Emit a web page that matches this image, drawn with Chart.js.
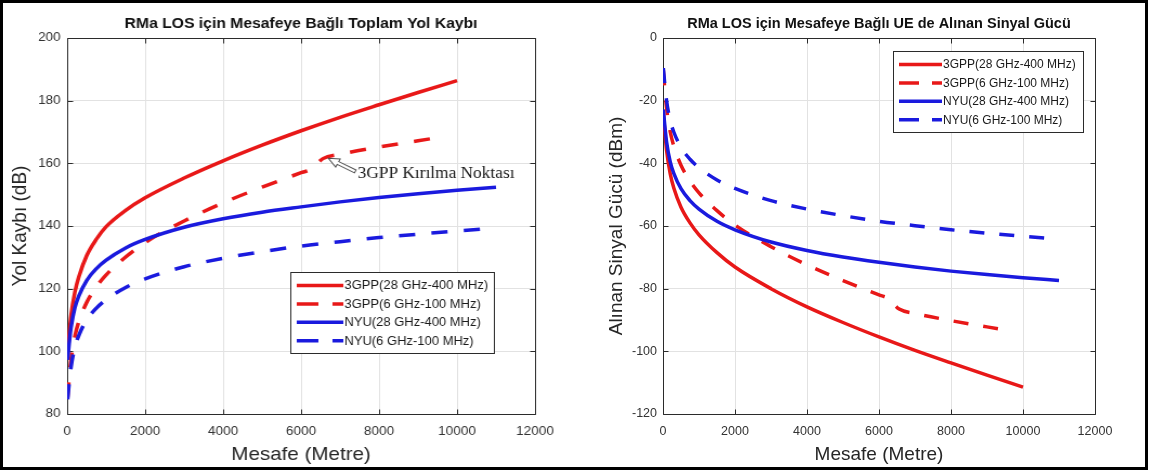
<!DOCTYPE html>
<html>
<head>
<meta charset="utf-8">
<script src="https://cdn.jsdelivr.net/npm/chart.js@4.4.0/dist/chart.umd.min.js"></script>
<style>
  html, body { margin: 0; padding: 0; background: #fff; }
  #page { position: relative; width: 1150px; height: 472px; overflow: hidden; }
  .panel { position: absolute; top: 0; width: 531px; height: 472px; }
  #leftPanel { left: 0; transform: scaleX(1.083); transform-origin: 0 0; }
  #rightPanel { left: 601px; }
  #outline { position: absolute; left: 0; top: 0; width: 1148px; height: 470px; border: 3px solid #000; box-sizing: border-box; pointer-events: none; }
</style>
</head>
<body>
<div id="page">
  <div class="panel" id="leftPanel"><canvas id="lossChart" width="531" height="472"></canvas></div>
  <div class="panel" id="rightPanel"><canvas id="powerChart" width="531" height="472"></canvas></div>
  <div id="outline"></div>
</div>
<script>
// distances (m)
const dist3gpp28 = [10, 50, 100, 200, 300, 500, 750, 1000, 1500, 2000, 3000, 4000, 5000, 6000, 7000, 8000, 9000, 10000];
const dist3gpp6 = [10, 50, 100, 200, 300, 500, 750, 1000, 1500, 2000, 3000, 4000, 5000, 6000, 6250, 6560, 7000, 8000, 9000, 9650];
const distNyu = [10, 50, 100, 200, 300, 500, 750, 1000, 1500, 2000, 3000, 4000, 5000, 6000, 7000, 8000, 9000, 10000, 11000];

// total path loss (dB)
const loss3gpp28 = [98.7, 105, 111.5, 119, 123.8, 130.5, 135.8, 139.8, 145, 149, 155.3, 160.8, 165.8, 170.4, 174.7, 178.7, 182.6, 186.4];
const loss3gpp6 = [85.3, 91.3, 97.5, 104.9, 109.5, 115.6, 120.6, 124.4, 130.1, 134.7, 141.6, 147.4, 152.4, 157, 158.1, 161.5, 162.9, 165.2, 167.2, 168.5];
const lossNyu28 = [97.3, 102.4, 107.7, 114, 117.7, 122.6, 126.4, 129.1, 133, 135.7, 139.6, 142.3, 144.4, 146.1, 147.7, 149.1, 150.3, 151.4, 152.4];
const lossNyu6 = [84.7, 89.8, 95.1, 101.4, 105.1, 110, 113.8, 116.5, 120.4, 123.1, 127, 129.7, 131.8, 133.6, 135, 136.3, 137.4, 138.4, 139.3];

// received power at the UE (dBm)
const rx3gpp28 = [-23.7, -29.7, -35.9, -43.3, -47.9, -54, -59, -62.8, -68.5, -73.1, -80, -85.8, -90.8, -95.4, -99.7, -103.7, -107.6, -111.4];
const rx3gpp6 = [-10.3, -16.3, -22.5, -29.9, -34.5, -40.6, -45.6, -49.4, -55.1, -59.7, -66.6, -72.4, -77.4, -82, -83.1, -86.5, -87.9, -90.2, -92.2, -93.5];
const rxNyu28 = [-22.8, -27.9, -33.2, -39.5, -43.2, -48.1, -51.9, -54.6, -58.5, -61.2, -65.1, -67.8, -69.9, -71.6, -73.1, -74.4, -75.5, -76.5, -77.4];
const rxNyu6 = [-9.6, -14.7, -20, -26.3, -30, -34.9, -38.7, -41.4, -45.3, -48, -51.9, -54.6, -56.7, -58.5, -59.9, -61.2, -62.3, -63.3, -64.2];

const seriesLabels = ['3GPP(28 GHz-400 MHz)', '3GPP(6 GHz-100 MHz)', 'NYU(28 GHz-400 MHz)', 'NYU(6 GHz-100 MHz)'];
const xTicks = [0, 2000, 4000, 6000, 8000, 10000, 12000];

const RED = '#e81818';
const BLUE = '#1a1ade';
const AXIS = '#2b2b2b';
const GRID = '#e2e2e2';
const SANS = "'Liberation Sans', Arial, sans-serif";
const TICK_LEN = 5;

function drawLegend(ctx, datasets, box) {
  ctx.fillStyle = '#fff';
  ctx.fillRect(box.x, box.y, box.w, box.h);
  ctx.strokeStyle = AXIS;
  ctx.lineWidth = 1;
  ctx.setLineDash([]);
  ctx.strokeRect(box.x + 0.5, box.y + 0.5, box.w, box.h);
  ctx.font = '12px ' + SANS;
  ctx.textBaseline = 'middle';
  ctx.textAlign = 'left';
  datasets.forEach((ds, i) => {
    const y = box.y + 13.5 + i * 18.4;
    ctx.strokeStyle = ds.borderColor;
    ctx.lineWidth = 3.5;
    ctx.lineCap = 'butt';
    ctx.setLineDash(ds.borderDash.length ? [20, 13] : []);
    ctx.beginPath();
    ctx.moveTo(box.x + 6, y);
    ctx.lineTo(box.x + 49, y);
    ctx.stroke();
    ctx.setLineDash([]);
    ctx.fillStyle = '#1a1a1a';
    ctx.fillText(ds.label, box.x + 50, y + 0.5);
  });
}

function drawNote(ctx, chart, note) {
  const { x, y } = chart.scales;
  const tipX = x.getPixelForValue(note.tip[0]), tipY = y.getPixelForValue(note.tip[1]);
  const tailX = x.getPixelForValue(note.tail[0]), tailY = y.getPixelForValue(note.tail[1]);
  const ang = Math.atan2(tipY - tailY, tipX - tailX);
  const len = Math.hypot(tipX - tailX, tipY - tailY);
  ctx.save();
  ctx.translate(tailX, tailY);
  ctx.rotate(ang);
  // hollow block arrow
  ctx.beginPath();
  ctx.moveTo(0, -1.6);
  ctx.lineTo(len - 10, -1.6);
  ctx.lineTo(len - 10, -4.5);
  ctx.lineTo(len, 0);
  ctx.lineTo(len - 10, 4.5);
  ctx.lineTo(len - 10, 1.6);
  ctx.lineTo(0, 1.6);
  ctx.closePath();
  ctx.fillStyle = '#fff';
  ctx.fill();
  ctx.strokeStyle = '#505050';
  ctx.lineWidth = 1;
  ctx.stroke();
  ctx.restore();

  ctx.font = "16px 'Liberation Serif', 'Times New Roman', serif";
  ctx.fillStyle = '#1a1a1a';
  ctx.textAlign = 'left';
  ctx.textBaseline = 'middle';
  ctx.fillText(note.text, x.getPixelForValue(note.at[0]), y.getPixelForValue(note.at[1]));
}

const frame = {
  id: 'frame',
  beforeDatasetsDraw(chart) {
    const { ctx, chartArea: a, scales: { x, y } } = chart;
    const l = Math.round(a.left) + 0.5, r = Math.round(a.right) + 0.5;
    const t = Math.round(a.top) + 0.5, b = Math.round(a.bottom) + 0.5;
    ctx.save();
    ctx.strokeStyle = AXIS;
    ctx.lineWidth = 1;
    ctx.beginPath();
    ctx.rect(l, t, r - l, b - t);
    x.ticks.forEach(tk => {
      const px = Math.round(x.getPixelForValue(tk.value)) + 0.5;
      ctx.moveTo(px, b); ctx.lineTo(px, b - TICK_LEN);
      ctx.moveTo(px, t); ctx.lineTo(px, t + TICK_LEN);
    });
    y.ticks.forEach(tk => {
      const py = Math.round(y.getPixelForValue(tk.value)) + 0.5;
      ctx.moveTo(l, py); ctx.lineTo(l + TICK_LEN, py);
      ctx.moveTo(r, py); ctx.lineTo(r - TICK_LEN, py);
    });
    ctx.stroke();
    ctx.restore();
  },
  afterDraw(chart, args, opts) {
    const { ctx, chartArea: a } = chart;
    const cx = (a.left + a.right) / 2, cy = (a.top + a.bottom) / 2;
    ctx.save();
    ctx.fillStyle = '#111';
    ctx.textAlign = 'center';
    ctx.textBaseline = 'middle';
    ctx.font = 'bold 14.5px ' + SANS;
    ctx.fillText(opts.title, cx, 24);
    ctx.fillStyle = '#262626';
    ctx.font = '19px ' + SANS;
    ctx.fillText(opts.xTitle, cx, 455);
    ctx.save();
    ctx.translate(opts.yTitleX, cy);
    ctx.rotate(-Math.PI / 2);
    ctx.fillText(opts.yTitle, 0, 0);
    ctx.restore();
    if (opts.note) drawNote(ctx, chart, opts.note);
    drawLegend(ctx, chart.data.datasets, opts.legend);
    ctx.restore();
  }
};

function makeSeries(dists, values, color, dashed, i) {
  return {
    label: seriesLabels[i],
    data: dists.map((d, k) => ({ x: d, y: values[k] })),
    borderColor: color,
    borderWidth: 3.5,
    borderDash: dashed ? [15, 15] : [],
    borderCapStyle: 'butt',
    pointRadius: 0,
    cubicInterpolationMode: 'monotone',
    fill: false,
    order: 4 - i // later series on top
  };
}

function buildChart(canvas, datasets, yMin, yMax, deco) {
  const tickFont = { family: SANS, size: 12.5 };
  return new Chart(canvas, {
    type: 'line',
    data: { datasets },
    options: {
      responsive: false,
      animation: false,
      events: [],
      layout: { padding: { left: 0, right: 37, top: 38, bottom: 0 } },
      plugins: {
        legend: { display: false },
        title: { display: false },
        tooltip: { enabled: false },
        frame: deco
      },
      scales: {
        x: {
          type: 'linear',
          min: 0,
          max: 12000,
          afterFit: s => { s.height = 58; },
          afterBuildTicks: s => { s.ticks = xTicks.map(v => ({ value: v })); },
          ticks: { padding: 10, color: '#333', font: tickFont, maxRotation: 0, autoSkip: false, callback: v => String(v) },
          grid: { color: GRID, drawTicks: false },
          border: { display: false }
        },
        y: {
          min: yMin,
          max: yMax,
          afterFit: s => { s.width = 62; },
          ticks: { stepSize: 20, padding: 6, color: '#333', font: tickFont, callback: v => String(v) },
          grid: { color: GRID, drawTicks: false },
          border: { display: false }
        }
      }
    },
    plugins: [frame]
  });
}

buildChart(document.getElementById('lossChart'), [
  makeSeries(dist3gpp28, loss3gpp28, RED, false, 0),
  makeSeries(dist3gpp6, loss3gpp6, RED, true, 1),
  makeSeries(distNyu, lossNyu28, BLUE, false, 2),
  makeSeries(distNyu, lossNyu6, BLUE, true, 3)
], 80, 200, {
  title: 'RMa LOS için Mesafeye Bağlı Toplam Yol Kaybı',
  xTitle: 'Mesafe (Metre)',
  yTitle: 'Yol Kaybı (dB)',
  yTitleX: 19,
  legend: { x: 268, y: 272, w: 188, h: 81 },
  note: { text: '3GPP Kırılma Noktası', tip: [6700, 161.6], tail: [7390, 157.4], at: [7450, 156.8] }
});

buildChart(document.getElementById('powerChart'), [
  makeSeries(dist3gpp28, rx3gpp28, RED, false, 0),
  makeSeries(dist3gpp6, rx3gpp6, RED, true, 1),
  makeSeries(distNyu, rxNyu28, BLUE, false, 2),
  makeSeries(distNyu, rxNyu6, BLUE, true, 3)
], -120, 0, {
  title: 'RMa LOS için Mesafeye Bağlı UE de Alınan Sinyal Gücü',
  xTitle: 'Mesafe (Metre)',
  yTitle: 'Alınan Sinyal Gücü (dBm)',
  yTitleX: 16,
  legend: { x: 292, y: 51, w: 190, h: 81 }
});
</script>
</body>
</html>
